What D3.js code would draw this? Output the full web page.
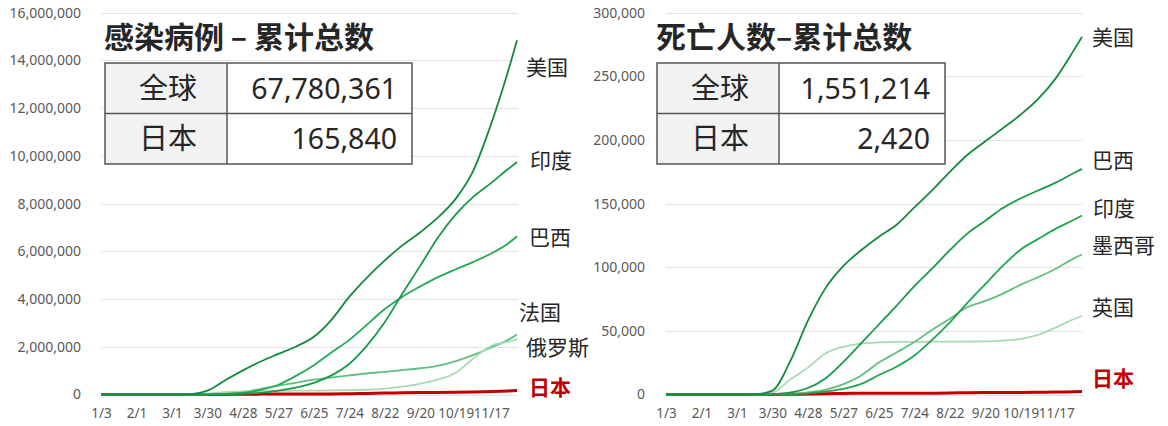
<!DOCTYPE html>
<html>
<head>
<meta charset="utf-8">
<script src="https://cdn.jsdelivr.net/npm/d3@7"></script>
<style>
  html, body { margin: 0; padding: 0; background: #fff; }
  svg { display: block; }
</style>
</head>
<body>
<script>
// ---------- DATA ----------
const dates = ["2020-01-03","2020-02-01","2020-03-01","2020-03-15","2020-03-30","2020-04-13","2020-04-28","2020-05-12","2020-05-27","2020-06-10","2020-06-25","2020-07-09","2020-07-24","2020-08-07","2020-08-22","2020-09-05","2020-09-20","2020-10-04","2020-10-19","2020-11-02","2020-11-17","2020-12-01","2020-12-08"];
const xTickLabels = ["1/3","2/1","3/1","3/30","4/28","5/27","6/25","7/24","8/22","9/20","10/19","11/17"];

const casesYTicks = [0,2000000,4000000,6000000,8000000,10000000,12000000,14000000,16000000];
const deathsYTicks = [0,50000,100000,150000,200000,250000,300000];

// cases
const casesUS     = [0,0,0,3500,160000,580000,1010000,1370000,1700000,2000000,2420000,3110000,4100000,4880000,5620000,6240000,6800000,7400000,8210000,9350000,11360000,13600000,14850000];
const casesIndia  = [0,0,0,0,1200,10000,30000,70000,160000,290000,490000,790000,1290000,2030000,3040000,4200000,5400000,6550000,7550000,8270000,8870000,9460000,9740000];
const casesBrazil = [0,0,0,0,4300,23000,73000,180000,410000,770000,1230000,1750000,2290000,2910000,3580000,4090000,4530000,4910000,5250000,5550000,5910000,6340000,6630000];
const casesRussia = [0,0,0,0,1800,20000,94000,230000,370000,490000,620000,710000,800000,880000,950000,1020000,1100000,1200000,1400000,1650000,1970000,2300000,2520000];
const casesFrance = [0,0,0,5000,45000,100000,130000,140000,150000,160000,165000,170000,180000,200000,250000,330000,460000,620000,910000,1500000,2040000,2220000,2310000];
const casesJapan  = [0,0,240,800,1900,7600,13600,15800,16700,17400,18400,21100,29300,44800,61700,71300,78700,85400,92800,102600,122300,148700,165840];

// deaths
const deathsUS     = [0,0,0,60,3100,25000,58000,83000,101000,113000,124000,133000,147000,160000,175000,188000,199000,209000,220000,232000,249000,270000,281000];
const deathsBrazil = [0,0,0,0,160,1400,5100,12400,25600,39700,55000,69300,85200,98500,113400,126200,136500,146400,154200,160300,166700,173900,177300];
const deathsIndia  = [0,0,0,0,30,340,940,2400,4500,8100,15300,21600,30600,42500,56700,71600,86800,100800,114000,122100,130500,137100,140600];
const deathsMexico = [0,0,0,0,30,330,1700,3600,8100,14600,25100,32800,41200,50500,59600,68500,73500,79100,86300,92100,99000,106800,110000];
const deathsUK     = [0,0,0,35,1400,11300,21100,32100,37500,40000,40900,41300,41300,41500,41500,41600,41800,42400,43700,46900,52800,59100,61700];
const deathsJapan  = [0,0,6,22,57,136,415,657,858,916,971,982,996,1023,1180,1369,1494,1565,1638,1738,1913,2185,2420];

const casesTitle = "感染病例 – 累计总数";
const deathsTitle = "死亡人数–累计总数";
const tableRows = ["全球","日本"];
const casesTable = ["67,780,361","165,840"];
const deathsTable = ["1,551,214","2,420"];

// ---------- LAYOUT ----------
const W = 1168, H = 426;
const parse = d3.timeParse("%Y-%m-%d");
const D = dates.map(parse);
const tickDates = xTickLabels.map(s => { const [m, d] = s.split("/"); return new Date(2020, +m - 1, +d); });

const cjk = "'Noto Sans CJK SC', 'Noto Sans', sans-serif";
const num = "'Noto Sans', 'Open Sans', sans-serif";

const svg = d3.select("body").append("svg").attr("width", W).attr("height", H);

function drawChart(cfg) {
  const g = svg.append("g");
  const x = d3.scaleTime().domain([D[0], D[D.length - 1]]).range([cfg.x0, cfg.x1]);
  const y = d3.scaleLinear().domain([0, cfg.ymax]).range([394.5, 12.7]);

  // gridlines
  g.append("g").selectAll("line").data(cfg.yTicks).join("line")
    .attr("x1", cfg.x0).attr("x2", cfg.x1 + 1)
    .attr("y1", d => Math.round(y(d)) + 0.5).attr("y2", d => Math.round(y(d)) + 0.5)
    .attr("stroke", "#e3e3e3").attr("stroke-width", 1);

  // y axis
  const ya = g.append("g").attr("transform", `translate(${cfg.x0},0)`)
    .call(d3.axisLeft(y).tickValues(cfg.yTicks).tickSize(0).tickPadding(cfg.x0 - cfg.yLabelRight).tickFormat(d3.format(",")));
  ya.select(".domain").remove();
  ya.selectAll("text").attr("font-family", num).attr("font-size", 14).attr("fill", "#595959");

  // x axis
  const xa = g.append("g").attr("transform", `translate(0,394.5)`)
    .call(d3.axisBottom(x).tickValues(tickDates).tickSize(0).tickPadding(14).tickFormat((d, i) => xTickLabels[i]));
  xa.select(".domain").remove();
  xa.selectAll("text").attr("font-family", num).attr("font-size", 13.5).attr("fill", "#595959");

  const line = d3.line().x((d, i) => x(D[i])).y(d => y(d)).curve(d3.curveMonotoneX);

  // series (lightest first)
  cfg.series.slice().reverse().forEach(s => {
    g.append("path").datum(s.values).attr("d", line)
      .attr("fill", "none").attr("stroke", s.color).attr("stroke-width", s.width || 1.8)
      .attr("stroke-linejoin", "round");
  });

  // labels
  cfg.series.forEach(s => {
    const last = s.values[s.values.length - 1];
    g.append("text").text(s.name)
      .attr("x", cfg.x1 + s.lx).attr("y", y(last) + s.ly)
      .attr("dy", "0.36em")
      .attr("font-family", cjk).attr("font-size", 21)
      .attr("font-weight", s.bold ? "bold" : "normal")
      .attr("fill", s.labelColor || "#262626");
  });

  // title
  g.append("text").text(cfg.title).attr("x", cfg.tx).attr("y", 48)
    .attr("font-family", cjk).attr("font-size", 30).attr("font-weight", "bold").attr("fill", "#262626");

  // table
  const t = cfg.table;
  const rowH = (t.y1 - t.y0) / 2;
  const tg = g.append("g");
  tableRows.forEach((r, i) => {
    const ry = t.y0 + i * rowH;
    tg.append("rect").attr("x", t.x0).attr("y", ry).attr("width", t.xm - t.x0).attr("height", rowH).attr("fill", "#f2f2f2");
    tg.append("rect").attr("x", t.xm).attr("y", ry).attr("width", t.x1 - t.xm).attr("height", rowH).attr("fill", "#ffffff");
    tg.append("text").text(r).attr("x", (t.x0 + t.xm) / 2 + 2).attr("y", ry + rowH / 2).attr("dy", "0.36em")
      .attr("text-anchor", "middle").attr("font-family", cjk).attr("font-size", 29).attr("fill", "#262626");
    tg.append("text").text(cfg.tableValues[i]).attr("x", t.x1 - 15).attr("y", ry + rowH / 2).attr("dy", "0.36em")
      .attr("text-anchor", "end").attr("font-family", num).attr("font-size", 28.5).attr("fill", "#262626");
  });
  tg.append("rect").attr("x", t.x0).attr("y", t.y0).attr("width", t.x1 - t.x0).attr("height", t.y1 - t.y0)
    .attr("fill", "none").attr("stroke", "#555").attr("stroke-width", 1.5);
  tg.append("line").attr("x1", t.x0).attr("x2", t.x1).attr("y1", t.y0 + rowH).attr("y2", t.y0 + rowH)
    .attr("stroke", "#555").attr("stroke-width", 1.5);
  tg.append("line").attr("x1", t.xm).attr("x2", t.xm).attr("y1", t.y0).attr("y2", t.y1)
    .attr("stroke", "#555").attr("stroke-width", 1.5);
}

const red = "#c00000";

drawChart({
  x0: 101, x1: 517, ymax: 16000000, yTicks: casesYTicks, yLabelRight: 81,
  title: casesTitle, tx: 104,
  table: { x0: 105, xm: 227, x1: 412, y0: 63, y1: 164 }, tableValues: casesTable,
  series: [
    { name: "美国", values: casesUS, color: "#138a40", lx: 9, ly: 27 },
    { name: "印度", values: casesIndia, color: "#179a4a", lx: 13, ly: -2 },
    { name: "巴西", values: casesBrazil, color: "#22aa55", lx: 12, ly: 1 },
    { name: "法国", values: casesFrance, color: "#a8dbb5", lx: 2, ly: -27 },
    { name: "俄罗斯", values: casesRussia, color: "#62bf80", lx: 9, ly: 13 },
    { name: "日本", values: casesJapan, color: red, width: 3, lx: 12, ly: -3, bold: true, labelColor: red }
  ]
});

drawChart({
  x0: 666, x1: 1082, ymax: 300000, yTicks: deathsYTicks, yLabelRight: 645,
  title: deathsTitle, tx: 656,
  table: { x0: 657, xm: 779, x1: 945, y0: 63, y1: 164 }, tableValues: deathsTable,
  series: [
    { name: "美国", values: deathsUS, color: "#138a40", lx: 10, ly: 1 },
    { name: "巴西", values: deathsBrazil, color: "#179a4a", lx: 10, ly: -8 },
    { name: "印度", values: deathsIndia, color: "#1fa752", lx: 11, ly: -7 },
    { name: "墨西哥", values: deathsMexico, color: "#62bf80", lx: 10, ly: -9 },
    { name: "英国", values: deathsUK, color: "#a8dbb5", lx: 10, ly: -9 },
    { name: "日本", values: deathsJapan, color: red, width: 3, lx: 10, ly: -13, bold: true, labelColor: red }
  ]
});
</script>
</body>
</html>
